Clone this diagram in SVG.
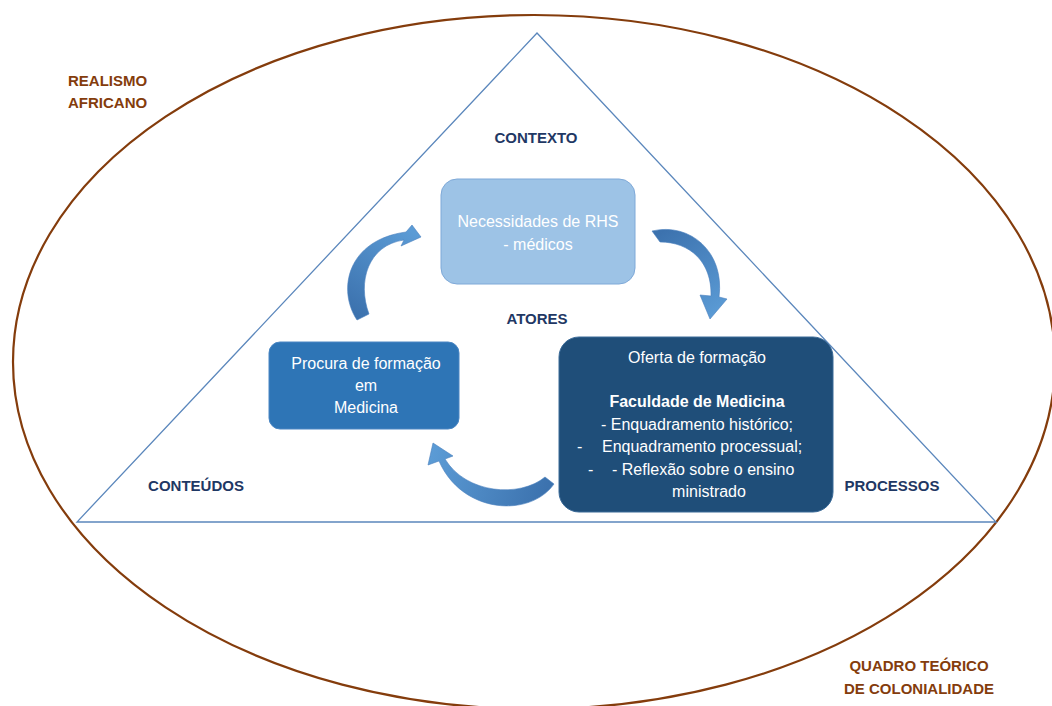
<svg xmlns="http://www.w3.org/2000/svg" width="1052" height="706" viewBox="0 0 1052 706">
  <style>
    .frame { fill: none; stroke: #843C0C; stroke-width: 2.2; }
    .tri { fill: none; stroke: #5B87BC; stroke-width: 1.3; }
    .theory { font-family: "Liberation Sans", Arial, sans-serif; font-weight: bold; font-size: 15px; fill: #843C0C; }
    .axis { font-family: "Liberation Sans", Arial, sans-serif; font-weight: bold; font-size: 15px; fill: #1F3864; text-anchor: middle; }
    .box-text { font-family: "Liberation Sans", Arial, sans-serif; font-size: 16px; fill: #FFFFFF; }
    .mid { text-anchor: middle; }
    .cycle { stroke: #4A80BE; stroke-width: 0.6; }
  </style>
  <defs>
    <linearGradient id="g1" gradientUnits="userSpaceOnUse" x1="362" y1="318" x2="418" y2="236">
      <stop offset="0" stop-color="#3C72AE"/>
      <stop offset="1" stop-color="#5B9BD5"/>
    </linearGradient>
    <linearGradient id="g2" gradientUnits="userSpaceOnUse" x1="655" y1="236" x2="712" y2="318">
      <stop offset="0" stop-color="#3C72AE"/>
      <stop offset="1" stop-color="#5B9BD5"/>
    </linearGradient>
    <linearGradient id="g3" gradientUnits="userSpaceOnUse" x1="550" y1="480" x2="434" y2="446">
      <stop offset="0" stop-color="#3C72AE"/>
      <stop offset="1" stop-color="#5B9BD5"/>
    </linearGradient>
  </defs>

  <rect width="1052" height="706" fill="#FFFFFF"/>

  <!-- theoretical frame -->
  <g id="frame">
    <ellipse class="frame" cx="534" cy="362" rx="521" ry="347"/>
    <text class="theory" x="68" y="86">REALISMO</text>
    <text class="theory" x="68" y="108">AFRICANO</text>
    <text class="theory" x="919" y="671" text-anchor="middle">QUADRO TEÓRICO</text>
    <text class="theory" x="919" y="694" text-anchor="middle">DE COLONIALIDADE</text>
  </g>

  <!-- triangle with its three corners -->
  <g id="triangle">
    <polygon class="tri" points="537,33 996,522 77,522"/>
    <text class="axis" x="536" y="143">CONTEXTO</text>
    <text class="axis" x="537" y="324">ATORES</text>
    <text class="axis" x="196" y="491">CONTEÚDOS</text>
    <text class="axis" x="892" y="491">PROCESSOS</text>
  </g>

  <!-- cycle arrows -->
  <g id="connectors">
    <path class="cycle" fill="url(#g1)"
      d="M 357 320 C 337 290, 347 240, 406 232 L 412 225 L 421 237 L 401 246 L 404 240 C 368 245, 357 282, 369 314 Z"/>
    <path class="cycle" fill="url(#g2)"
      d="M 652 231 C 690 222, 725 252, 719 297 L 727 299 L 710 319 L 700 295 L 711 296 C 712 262, 690 242, 660 242 Z"/>
    <path class="cycle" fill="url(#g3)"
      d="M 554 484 C 530 518, 462 514, 439 461 L 428 465 L 433 443 L 453 456 L 445 459 C 466 494, 520 498, 545 477 Z"/>
  </g>

  <!-- needs -->
  <g id="node-necessidades">
    <rect x="441" y="179" width="194" height="105" rx="16" fill="#9DC3E6" stroke="#7FA9D8" stroke-width="1"/>
    <text class="box-text mid" x="538" y="227">Necessidades de RHS</text>
    <text class="box-text mid" x="538" y="250">- médicos</text>
  </g>

  <!-- demand -->
  <g id="node-procura">
    <rect x="269" y="342" width="190" height="87" rx="11" fill="#2E75B6" stroke="#4A86C3" stroke-width="1"/>
    <text class="box-text mid" x="366" y="369" font-size="17">Procura de formação</text>
    <text class="box-text mid" x="366" y="391" font-size="17">em</text>
    <text class="box-text mid" x="366" y="413" font-size="17">Medicina</text>
  </g>

  <!-- offer -->
  <g id="node-oferta">
    <rect x="559" y="337" width="274" height="175" rx="20" fill="#1F4E79" stroke="#3A6A98" stroke-width="1"/>
    <text class="box-text mid" x="697" y="363" font-size="17">Oferta de formação</text>
    <text class="box-text mid" x="697" y="407" font-weight="bold">Faculdade de Medicina</text>
    <text class="box-text mid" x="697" y="430" font-size="17">- Enquadramento histórico;</text>
    <text class="box-text" x="577" y="452" font-size="17">-</text>
    <text class="box-text" x="602" y="452" font-size="17">Enquadramento processual;</text>
    <text class="box-text" x="588" y="475" font-size="17">-</text>
    <text class="box-text" x="612" y="475" font-size="17">- Reflexão sobre o ensino</text>
    <text class="box-text mid" x="709" y="497" font-size="17">ministrado</text>
  </g>
</svg>
